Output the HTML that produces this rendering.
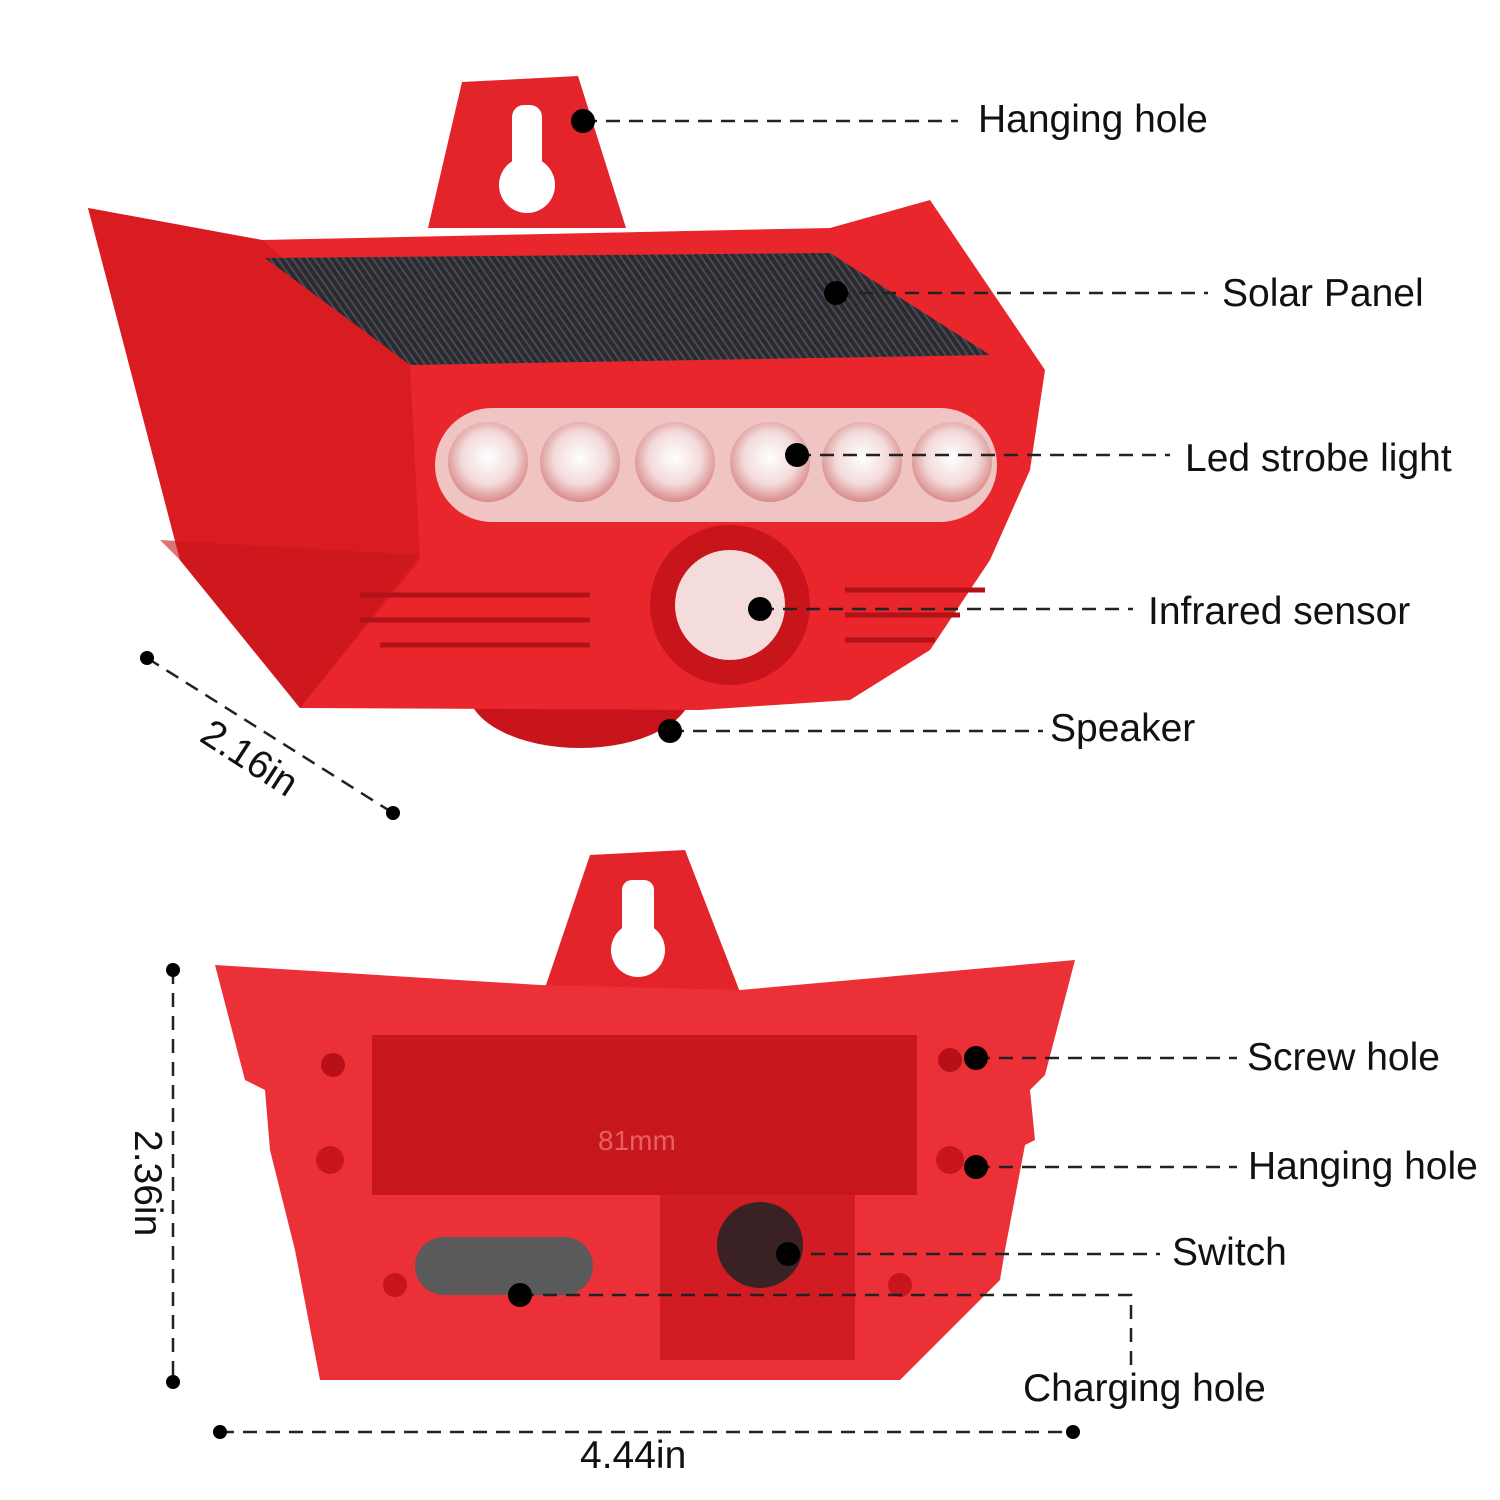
<!DOCTYPE html>
<html><head><meta charset="utf-8"><style>
html,body{margin:0;padding:0;background:#fff;}
svg{display:block;}
text{font-family:"Liberation Sans","DejaVu Sans",sans-serif;font-size:39px;fill:#111;}
</style></head><body>
<svg width="1500" height="1500" viewBox="0 0 1500 1500" xmlns="http://www.w3.org/2000/svg">
<defs>
<pattern id="sol" width="6" height="6" patternUnits="userSpaceOnUse" patternTransform="rotate(-35)">
<rect width="6" height="6" fill="#2a2a30"/><rect width="2" height="6" fill="#4a4a52"/>
</pattern>
<radialGradient id="led" cx="50%" cy="45%" r="55%"><stop offset="0" stop-color="#fff"/><stop offset="0.6" stop-color="#f3dada"/><stop offset="1" stop-color="#d98a8a"/></radialGradient>
</defs>
<!-- Top device -->
<polygon points="428,228 462,82 578,76 626,228" fill="#e3242b"/>
<rect x="512" y="105" width="30" height="70" rx="12" fill="#fff"/>
<circle cx="527" cy="185" r="28" fill="#fff"/>
<ellipse cx="580" cy="690" rx="112" ry="58" fill="#c8141b"/>
<polygon points="88,208 262,240 830,228 930,200 1045,370 1030,470 990,560 930,650 850,700 700,710 300,708 180,560 120,330" fill="#e8262c"/>
<polygon points="88,208 262,240 410,365 420,560 300,708 180,560 120,330" fill="#d41a20" opacity="0.8"/>
<polygon points="160,540 420,555 300,708 180,560" fill="#c8161d" opacity="0.6"/>
<polygon points="265,258 830,253 990,355 410,365" fill="url(#sol)"/>
<rect x="435" y="408" width="562" height="114" rx="57" fill="#f1c4c4"/>
<g fill="url(#led)">
<circle cx="488" cy="462" r="40"/><circle cx="580" cy="462" r="40"/><circle cx="675" cy="462" r="40"/>
<circle cx="770" cy="462" r="40"/><circle cx="862" cy="462" r="40"/><circle cx="952" cy="462" r="40"/>
</g>
<g stroke="#b01218" stroke-width="5">
<line x1="360" y1="595" x2="590" y2="595"/><line x1="360" y1="620" x2="590" y2="620"/><line x1="380" y1="645" x2="590" y2="645"/>
<line x1="845" y1="590" x2="985" y2="590"/><line x1="845" y1="615" x2="960" y2="615"/><line x1="845" y1="640" x2="935" y2="640"/>
</g>
<circle cx="730" cy="605" r="80" fill="#c8141b"/>
<circle cx="730" cy="605" r="55" fill="#f4dcdc"/>
<!-- Bottom device -->
<polygon points="545,988 590,855 685,850 740,992" fill="#e3242b"/>
<rect x="622" y="880" width="32" height="60" rx="10" fill="#fff"/>
<circle cx="638" cy="950" r="27" fill="#fff"/>
<polygon points="215,965 540,985 740,990 1075,960 1045,1075 1030,1090 1035,1140 1025,1145 1005,1250 1000,1280 900,1380 320,1380 295,1250 270,1150 265,1090 245,1080" fill="#ec3038"/>
<rect x="372" y="1035" width="545" height="160" fill="#c8161d"/>
<text x="598" y="1150" style="font-size:28px;fill:#e56060">81mm</text>
<rect x="660" y="1195" width="195" height="165" fill="#d01c22"/>
<circle cx="760" cy="1245" r="43" fill="#3a2224"/>
<rect x="415" y="1237" width="178" height="58" rx="29" fill="#5a5a5a"/>
<circle cx="333" cy="1065" r="12" fill="#b81018"/><circle cx="950" cy="1060" r="12" fill="#b81018"/>
<circle cx="330" cy="1160" r="14" fill="#c8141b"/><circle cx="950" cy="1160" r="14" fill="#c8141b"/>
<circle cx="395" cy="1285" r="12" fill="#c8141b"/><circle cx="900" cy="1285" r="12" fill="#c8141b"/>
<!-- callouts -->
<g stroke="#222" stroke-width="2.5" stroke-dasharray="14,9" fill="none">
<line x1="583" y1="121" x2="958" y2="121"/>
<line x1="836" y1="293" x2="1208" y2="293"/>
<line x1="797" y1="455" x2="1170" y2="455"/>
<line x1="760" y1="609" x2="1133" y2="609"/>
<line x1="670" y1="731" x2="1043" y2="731"/>
<line x1="976" y1="1058" x2="1237" y2="1058"/>
<line x1="976" y1="1167" x2="1237" y2="1167"/>
<line x1="788" y1="1254" x2="1160" y2="1254"/>
<polyline points="520,1295 1131,1295 1131,1365"/>
<line x1="147" y1="658" x2="393" y2="813"/>
<line x1="173" y1="970" x2="173" y2="1382"/>
<line x1="220" y1="1432" x2="1073" y2="1432"/>
</g>
<g fill="#000">
<circle cx="583" cy="121" r="12"/><circle cx="836" cy="293" r="12"/><circle cx="797" cy="455" r="12"/>
<circle cx="760" cy="609" r="12"/><circle cx="670" cy="731" r="12"/><circle cx="976" cy="1058" r="12"/>
<circle cx="976" cy="1167" r="12"/><circle cx="788" cy="1254" r="12"/><circle cx="520" cy="1295" r="12"/>
<circle cx="147" cy="658" r="7"/><circle cx="393" cy="813" r="7"/><circle cx="173" cy="970" r="7"/>
<circle cx="173" cy="1382" r="7"/><circle cx="220" cy="1432" r="7"/><circle cx="1073" cy="1432" r="7"/>
</g>
<text x="978" y="132">Hanging hole</text>
<text x="1222" y="306">Solar Panel</text>
<text x="1185" y="471">Led strobe light</text>
<text x="1148" y="624">Infrared sensor</text>
<text x="1050" y="741">Speaker</text>
<text x="1247" y="1070">Screw hole</text>
<text x="1248" y="1179">Hanging hole</text>
<text x="1172" y="1265">Switch</text>
<text x="1023" y="1401">Charging hole</text>
<text x="580" y="1468">4.44in</text>
<text x="0" y="0" transform="translate(198,740) rotate(33)">2.16in</text>
<text x="0" y="0" transform="translate(135,1130) rotate(90)">2.36in</text>
</svg>
</body></html>
